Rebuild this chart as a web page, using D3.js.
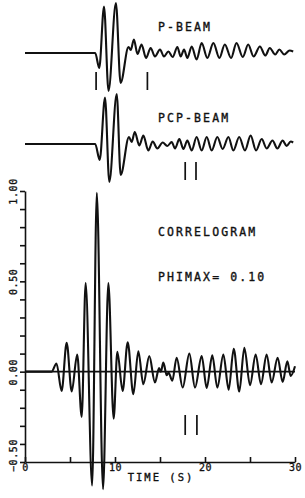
<!DOCTYPE html>
<html lang="en">
<head>
<meta charset="UTF-8">
<title>P-beam / PcP-beam correlogram</title>
<script src="https://d3js.org/d3.v7.min.js"></script>
<style>
  body { margin: 0; background: #fff; }
  .trace { fill: none; stroke: #111; stroke-width: 2.1px; stroke-linejoin: round; }
  .mark { stroke: #111; stroke-width: 1.7px; }
  .axis path, .axis line { stroke: #111; stroke-width: 1.6px; }
  .axis text { font-family: "DejaVu Sans Mono", monospace; font-size: 10px; fill: #111; stroke: #111; stroke-width: 0.3px; letter-spacing: 0.6px; }
  .label { font-family: "DejaVu Sans Mono", monospace; font-size: 11.5px; fill: #111; stroke: #111; stroke-width: 0.35px; letter-spacing: 2.1px; }
</style>
</head>
<body>
<svg width="305" height="498"></svg>
<script>
// extrema: time (s) and relative amplitude
const pTime = [0, 7.8, 8.25, 8.78, 9.28, 10.1, 10.62, 11.5, 11.75, 12.1, 12.5, 12.95, 13.45, 13.96, 14.44,
  15.0, 15.44, 15.93, 16.41, 16.93, 17.3, 17.67, 18.04, 18.52, 19.07, 19.63, 20.26, 20.93, 21.6, 22.2,
  22.9, 23.5, 24.2, 24.8, 25.4, 26.1, 26.7, 27.2, 27.8, 28.26, 28.8, 29.4, 29.8];
const pAmp = [0, 0, -0.3, 0.93, -0.76, 1.0, -0.6, 0.12, 0.06, 0.27, -0.02, 0.17, -0.1, 0.1, -0.07,
  0.07, -0.07, 0.03, -0.08, 0.12, -0.07, 0.07, -0.1, 0.13, -0.13, 0.2, -0.1, 0.2, -0.1, 0.17,
  -0.1, 0.2, -0.08, 0.17, -0.07, 0.13, -0.05, 0.1, -0.03, 0.07, -0.03, 0.05, 0.03];

const pcpTime = [0, 7.8, 8.3, 8.89, 9.37, 10.19, 10.63, 11.55, 11.85, 12.2, 12.7, 13.15, 13.7, 14.19, 14.7,
  15.3, 15.81, 16.3, 16.67, 17.15, 17.6, 18.04, 18.52, 19.07, 19.63, 20.19, 20.74, 21.37, 21.96, 22.6,
  23.15, 23.8, 24.44, 25.07, 25.67, 26.3, 26.85, 27.5, 28.04, 28.63, 29.07, 29.52, 29.8];
const pcpAmp = [0, 0, -0.32, 0.93, -0.76, 1.0, -0.62, 0.14, 0.04, 0.24, -0.03, 0.17, -0.13, 0.05, -0.09,
  0.03, -0.04, 0.04, -0.09, 0.1, -0.1, 0.07, -0.13, 0.14, -0.13, 0.14, -0.13, 0.14, -0.1, 0.14,
  -0.13, 0.14, -0.13, 0.17, -0.13, 0.1, -0.09, 0.07, -0.09, 0.07, -0.04, 0.05, 0.03];

const corrTime = [0, 2.95, 3.5, 4.07, 4.63, 5.19, 5.8, 6.3, 6.74, 7.46, 7.98, 8.67, 9.26, 9.85, 10.26,
  10.85, 11.41, 12.04, 12.59, 13.15, 13.81, 14.44, 14.9, 15.1, 15.37, 15.75, 15.95, 16.37, 16.85, 17.52,
  18.26, 18.89, 19.63, 20.19, 20.81, 21.37, 22.04, 22.63, 23.19, 23.81, 24.37, 25.0, 25.63, 26.22, 26.85,
  27.41, 28.07, 28.63, 29.15, 29.52, 30.0];
const corrAmp = [0, 0, 0.045, -0.107, 0.16, -0.11, 0.095, -0.25, 0.49, -0.63, 0.99, -0.65, 0.49, -0.26, 0.11,
  -0.107, 0.163, -0.125, 0.113, -0.07, 0.086, -0.06, 0.02, 0.0, 0.05, -0.02, -0.005, -0.05, 0.077, -0.088,
  0.1, -0.088, 0.086, -0.09, 0.09, -0.088, 0.095, -0.1, 0.127, -0.11, 0.132, -0.075, 0.095, -0.07, 0.095,
  -0.06, 0.077, -0.057, 0.058, -0.024, 0.03];

// window markers (s)
const pMarks = [7.9, 13.6];
const pcpMarks = [17.8, 19.0];
const corrMarks = [17.8, 19.1];

const timeTicks = [0, 5, 10, 15, 20, 25, 30];
const corrTicks = [-0.5, -0.4, -0.3, -0.2, -0.1, 0, 0.1, 0.2, 0.3, 0.4, 0.5, 0.6, 0.7, 0.8, 0.9, 1.0];
const corrLabelled = [-0.5, 0, 0.5, 1.0];

const svg = d3.select("svg");

const x = d3.scaleLinear().domain([0, 30]).range([25, 295]);
const amp = d3.scaleLinear().domain([-1, 1]).range([50, -50]);
const y = d3.scaleLinear().domain([-0.5, 1.0]).range([462, 191]);

function trace(g, times, values, yScale) {
    const line = d3.line()
        .x(d => x(d[0]))
        .y(d => yScale(d[1]))
        .curve(d3.curveMonotoneX);
    g.append("path")
        .attr("class", "trace")
        .attr("d", line(d3.zip(times, values)));
}

function marks(g, times, y0, y1) {
    g.selectAll(".mark").data(times).enter().append("line")
        .attr("class", "mark")
        .attr("x1", d => x(d)).attr("x2", d => x(d))
        .attr("y1", y0).attr("y2", y1);
}

// top two beams
const pG = svg.append("g").attr("transform", "translate(0,53)");
trace(pG, pTime, pAmp, amp);
marks(pG, pMarks, 19, 37);

const pcpG = svg.append("g").attr("transform", "translate(0,144)");
trace(pcpG, pcpTime, pcpAmp, amp);
marks(pcpG, pcpMarks, 18, 36);

svg.append("text").attr("class", "label").attr("x", 158).attr("y", 30.5).text("P-BEAM");
svg.append("text").attr("class", "label").attr("x", 158).attr("y", 121.5).text("PCP-BEAM");

// correlogram axes
const xAxis = svg.append("g")
    .attr("class", "axis")
    .attr("transform", `translate(0,${y(-0.5)})`)
    .call(d3.axisBottom(x)
        .tickValues(timeTicks)
        .tickSizeInner(-5)
        .tickSizeOuter(0)
        .tickPadding(2)
        .tickFormat(d => d % 10 === 0 ? d : ""));

const yAxis = svg.append("g")
    .attr("class", "axis")
    .attr("transform", `translate(${x(0)},0)`)
    .call(d3.axisLeft(y)
        .tickValues(corrTicks)
        .tickSizeInner(5)
        .tickSizeOuter(0)
        .tickFormat(d => corrLabelled.some(v => Math.abs(v - d) < 1e-9) ? d3.format(".2f")(d) : ""));

yAxis.selectAll("text")
    .attr("text-anchor", "middle")
    .attr("dy", null)
    .attr("transform", "rotate(-90)")
    .attr("x", d => d < 0 ? 7 : 0)
    .attr("y", -8.5);

// zero line
svg.append("line")
    .attr("class", "mark")
    .attr("x1", x(0)).attr("x2", x(30))
    .attr("y1", y(0)).attr("y2", y(0));

const corrG = svg.append("g");
trace(corrG, corrTime, corrAmp, y);
marks(corrG, corrMarks, 415, 435);

svg.append("text").attr("class", "label").attr("x", 158).attr("y", 236).text("CORRELOGRAM");
svg.append("text").attr("class", "label").attr("x", 158).attr("y", 281).text("PHIMAX= 0.10");

svg.append("text")
    .attr("class", "label")
    .attr("x", 161).attr("y", 480.5)
    .attr("text-anchor", "middle")
    .style("font-size", "10.5px")
    .style("letter-spacing", "2px")
    .text("TIME (S)");
</script>
</body>
</html>
